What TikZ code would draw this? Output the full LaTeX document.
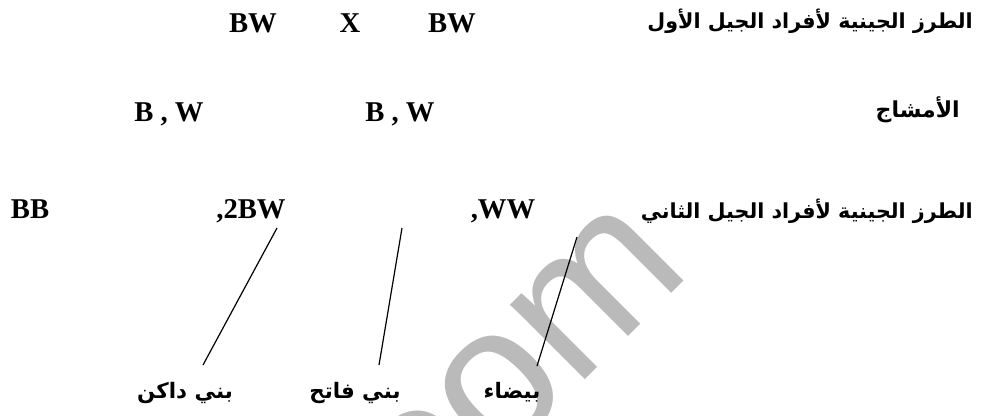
\documentclass[tikz,border=0pt]{standalone}
\usepackage{fontspec}
\setmainfont{Liberation Serif}
\newfontfamily\arabicfont[Script=Arabic]{DejaVu Sans}
\newfontfamily\wmfont{Liberation Sans}
\TeXXeTstate=1
\usetikzlibrary{calc}
\tikzset{
  lat/.style={font=\fontsize{21.5}{24}\selectfont\bfseries, inner sep=0pt, anchor=base},
  artitle/.style={font=\fontsize{15.5}{20}\selectfont\arabicfont\bfseries, inner sep=0pt, anchor=base east},
  argam/.style={font=\fontsize{16.5}{20}\selectfont\arabicfont\bfseries, inner sep=0pt, anchor=base east},
  arlbl/.style={font=\fontsize{16}{18}\selectfont\arabicfont\bfseries, inner sep=0pt, anchor=base},
  conn/.style={line width=0.9pt},
  wm/.style={font=\fontsize{150}{155}\selectfont\wmfont, text=black!27, inner sep=0pt}
}
\begin{document}
\begin{tikzpicture}[x=0.75pt,y=-0.75pt]
\useasboundingbox (0,0) rectangle (987,415);
\begin{scope}
  \clip (0,0) rectangle (987,415);
  \node[wm, rotate=45, anchor=base east] (wmk) at (694,271) {com};
\end{scope}
% first generation
\node[lat] (p1) at (253,32) {BW};
\node[lat] (x) at (350,32) {X};
\node[lat] (p2) at (452,32) {BW};
\node[artitle] (t1) at (973,28) {\beginR الطرز الجينية لأفراد الجيل الأول\endR};
% gametes
\node[lat] (g1) at (169,121) {B , W};
\node[lat] (g2) at (400,121) {B , W};
\node[argam] (t2) at (960,117) {\beginR الأمشاج\endR};
% second generation
\node[lat] (o1) at (30,218) {BB};
\node[lat] (o2) at (251,218) {,2BW};
\node[lat] (o3) at (503,218) {,WW};
\node[artitle] (t3) at (973,218) {\beginR الطرز الجينية لأفراد الجيل الثاني\endR};
% phenotype labels
\node[arlbl] (l1) at (185,398) {\beginR بني داكن\endR};
\node[arlbl] (l2) at (355,398) {\beginR بني فاتح\endR};
\node[arlbl] (l3) at (512,398) {\beginR بيضاء\endR};
\coordinate (c2) at (402,228);
\draw[conn] ($(o2.base)+(26,10)$) -- ($(l1.base)+(18,-33)$);
\draw[conn] (c2) -- ($(l2.base)+(24,-33)$);
\draw[conn] ($(o3.base)+(74,19)$) -- ($(l3.base)+(25,-32)$);
\end{tikzpicture}
\end{document}
